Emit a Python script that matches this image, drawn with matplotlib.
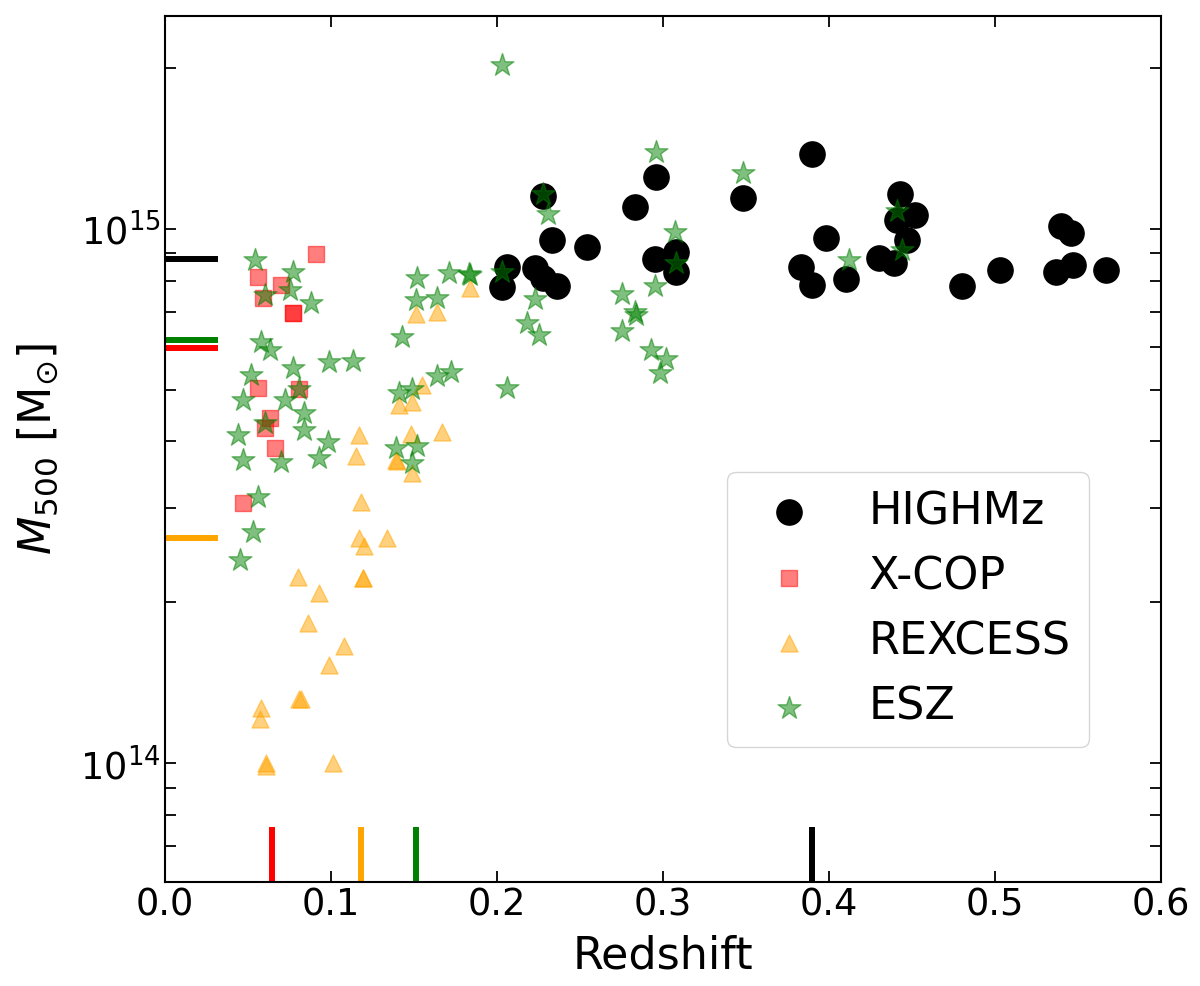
import numpy as np
import matplotlib
matplotlib.use('Agg')
import matplotlib.pyplot as plt

# redshift and M500 (in 1e14 Msun)
z_highmz = [0.203, 0.206, 0.223, 0.228, 0.236, 0.228, 0.233, 0.254, 0.283, 0.296,
            0.295, 0.308, 0.308, 0.348, 0.390, 0.398, 0.383, 0.390, 0.410, 0.430,
            0.439, 0.441, 0.443, 0.452, 0.447, 0.480, 0.503, 0.540, 0.546, 0.537,
            0.547, 0.567]
m_highmz = [7.78, 8.48, 8.44, 8.09, 7.81, 11.5, 9.53, 9.24, 11.0, 12.5,
            8.77, 9.04, 8.30, 11.4, 13.8, 9.61, 8.48, 7.85, 8.05, 8.81,
            8.63, 10.4, 11.6, 10.6, 9.53, 7.81, 8.37, 10.1, 9.82, 8.30,
            8.55, 8.37]

z_xcop = [0.091, 0.056, 0.070, 0.059, 0.077, 0.077, 0.056, 0.081, 0.063, 0.060,
          0.066, 0.047]
m_xcop = [8.97, 8.12, 7.85, 7.42, 6.95, 6.95, 5.03, 5.01, 4.42, 4.24,
          3.89, 3.07]

z_rexcess = [0.184, 0.151, 0.164, 0.155, 0.141, 0.149, 0.117, 0.148, 0.167, 0.115,
             0.140, 0.139, 0.149, 0.118, 0.117, 0.120, 0.134, 0.080, 0.119, 0.119,
             0.093, 0.086, 0.108, 0.099, 0.081, 0.082, 0.058, 0.057, 0.061, 0.061,
             0.101]
m_rexcess = [7.74, 6.92, 6.98, 5.10, 4.68, 4.74, 4.11, 4.13, 4.16, 3.75,
             3.67, 3.70, 3.49, 3.08, 2.64, 2.55, 2.64, 2.23, 2.22, 2.22,
             2.08, 1.83, 1.66, 1.53, 1.32, 1.32, 1.27, 1.21, 1.00, 0.987,
             1.00]

z_esz = [0.054, 0.077, 0.060, 0.075, 0.088, 0.058, 0.063, 0.099, 0.113, 0.052,
         0.077, 0.081, 0.047, 0.072, 0.084, 0.060, 0.084, 0.044, 0.098, 0.047,
         0.070, 0.093, 0.056, 0.053, 0.045, 0.152, 0.171, 0.184, 0.183, 0.151,
         0.164, 0.143, 0.164, 0.172, 0.141, 0.149, 0.139, 0.152, 0.149, 0.203,
         0.296, 0.348, 0.228, 0.231, 0.307, 0.308, 0.203, 0.295, 0.275, 0.223,
         0.283, 0.284, 0.218, 0.225, 0.206, 0.275, 0.293, 0.302, 0.298, 0.441,
         0.444, 0.412]
m_esz = [8.74, 8.30, 7.51, 7.68, 7.26, 6.13, 5.93, 5.63, 5.65, 5.32,
         5.49, 5.01, 4.78, 4.78, 4.52, 4.33, 4.20, 4.11, 3.99, 3.69,
         3.66, 3.72, 3.15, 2.71, 2.40, 8.09, 8.26, 8.19, 8.22, 7.36,
         7.42, 6.27, 5.30, 5.39, 4.93, 5.01, 3.89, 3.92, 3.64, 20.2,
         13.9, 12.7, 11.6, 10.65, 9.86, 8.63, 8.30, 7.81, 7.55, 7.39,
         6.98, 6.89, 6.66, 6.32, 5.03, 6.43, 5.93, 5.70, 5.37, 10.8,
         9.12, 8.74]

samples = [('HIGHMz', z_highmz, m_highmz, 'black', 'o', 330, 1.0),
           ('X-COP', z_xcop, m_xcop, 'red', 's', 140, 0.5),
           ('REXCESS', z_rexcess, m_rexcess, 'orange', '^', 150, 0.5),
           ('ESZ', z_esz, m_esz, 'green', '*', 300, 0.5)]

fig = plt.figure(figsize=(12, 9.86), dpi=100)
ax = fig.add_axes([0.1375, 0.1055, 0.83, 0.8783])

for name, z, m, col, mk, s, a in samples:
    ax.scatter(z, np.array(m)*1e14, c=col, marker=mk, s=s, alpha=a, label=name)

# median redshift / mass of each sample
for name, z, m, col, mk, s, a in samples:
    ax.axvline(np.median(z), ymin=0, ymax=0.06, color=col, lw=4.3)
    ax.axhline(np.median(m)*1e14, xmin=0, xmax=0.05, color=col, lw=4.3)

ax.set_yscale('log')
ax.set_xlim(0, 0.6)
ax.set_ylim(6e13, 2.5e15)
ax.set_xlabel('Redshift', fontsize=32, labelpad=8)
ax.set_ylabel(r'$M_{500}$ [M$_{\odot}$]', fontsize=32, labelpad=14)
ax.tick_params(which='both', direction='in', top=True, right=True,
               length=8, width=1.3, labelsize=26.5)
for sp in ax.spines.values():
    sp.set_linewidth(1.5)

ax.legend(loc='upper left', bbox_to_anchor=(0.564, 0.473), borderaxespad=0,
          fontsize=32)

plt.savefig('out.png', dpi=100)
